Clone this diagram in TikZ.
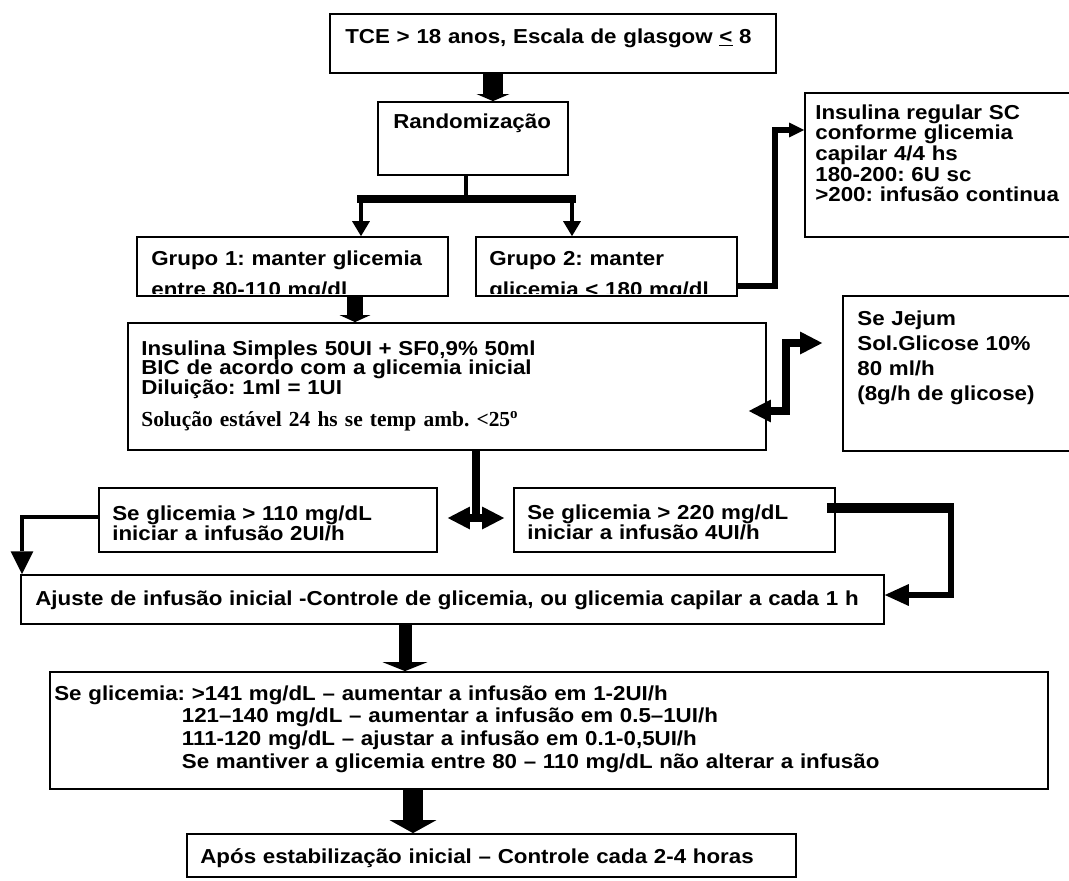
\documentclass[tikz,border=0pt]{standalone}
\usepackage{fontspec}
\setmainfont{Liberation Sans}[FakeStretch=1.105]
\newfontfamily\timesbold{Liberation Serif}
\usetikzlibrary{arrows.meta, calc, fit}
\frenchspacing
\tikzset{
	box/.style={draw=black, line width=1pt, inner sep=0pt},
	txt/.style={anchor=base west, inner sep=0pt, align=left, text width=18cm,
		font=\fontsize{11.5}{#1}\selectfont\bfseries},
	fatarrow/.style n args={3}{line width=#1, -{Triangle[width=#2,length=#3,line width=0pt]}},
	elbow/.style n args={3}{line width=#1, -{Triangle[width=#2,length=#3,line width=0pt]}},
	twoway/.style={line width=4pt,
		{Triangle[width=13pt,length=12.5pt,line width=0pt]}-{Triangle[width=13pt,length=12.5pt,line width=0pt]}},
	stem/.style={line width=2.8pt},
	bar/.style={line width=4.5pt, line cap=rect}
}
\begin{document}
\frenchspacing
\begin{tikzpicture}[x=0.02cm, y=-0.02cm]
	\fill[white] (0,0) rectangle (1069,880);
	\useasboundingbox (0,0) rectangle (1069,880);
	% caixas
	\node[box, fit={(330,14) (776,73)}]    (tce)    {};
	\node[box, fit={(378,102) (568,175)}]  (rand)   {};
	\node[box, fit={(137,237) (448,296)}]  (grp1)   {};
	\node[box, fit={(476,237) (737,296)}]  (grp2)   {};
	\node[box, fit={(805,93) (1080,237)}]  (sc)     {};
	\node[box, fit={(128,323) (766,450)}]  (bic)    {};
	\node[box, fit={(843,296) (1080,451)}] (jejum)  {};
	\node[box, fit={(99,488) (437,552)}]   (ini2)   {};
	\node[box, fit={(514,488) (835,552)}]  (ini4)   {};
	\node[box, fit={(21,575) (884,624)}]   (ajuste) {};
	\node[box, fit={(50,672) (1048,789)}]  (regras) {};
	\node[box, fit={(187,834) (796,877)}]  (apos)   {};
	% textos
	\node[txt=11.8pt] (tce-t) at (345,43) {TCE > 18 anos, Escala de glasgow \underline{<} 8};
	\node[txt=11.8pt] (rand-t) at (393,128) {Randomização};
	\begin{scope}
		\clip (137,237) rectangle (737,293);
		\node[txt=18.1pt] (grp1-t) at (151,265) {Grupo 1: manter glicemia\\entre 80-110 mg/dl};
		\node[txt=18.1pt] (grp2-t) at (489,265) {Grupo 2: manter\\glicemia < 180 mg/dl};
	\end{scope}
	\node[txt=11.8pt] (sc-t) at (815,119) {Insulina regular SC\\conforme glicemia\\capilar 4/4 hs\\180-200: 6U sc\\>200: infusão continua};
	\node[txt=11.2pt] (bic-t) at (141,355) {Insulina Simples 50UI + SF0,9\% 50ml\\BIC de acordo com a glicemia inicial\\Diluição: 1ml = 1UI};
	\node[txt=11.2pt, font=\timesbold\fontsize{12.2}{14}\selectfont\bfseries] (bic-t2) at (141,426) {Solução estável 24 hs se temp amb. <25\textsuperscript{o}};
	\node[txt=14.3pt] (jejum-t) at (857,325) {Se Jejum\\Sol.Glicose 10\%\\80 ml/h\\(8g/h de glicose)};
	\node[txt=11.9pt] (ini2-t) at (112,520) {Se glicemia > 110 mg/dL\\iniciar a infusão 2UI/h};
	\node[txt=11.9pt] (ini4-t) at (527,519) {Se glicemia > 220 mg/dL\\iniciar a infusão 4UI/h};
	\node[txt=11.9pt] (ajuste-t) at (35,605) {Ajuste de infusão inicial -Controle de glicemia, ou glicemia capilar a cada 1 h};
	\node[txt=12.9pt] (regras-t) at (54,700) {Se glicemia: >141 mg/dL – aumentar a infusão em 1-2UI/h\\
		\hspace*{72.6pt}121–140 mg/dL – aumentar a infusão em 0.5–1UI/h\\
		\hspace*{72.6pt}111-120 mg/dL – ajustar a infusão em 0.1-0,5UI/h\\
		\hspace*{72.6pt}Se mantiver a glicemia entre 80 – 110 mg/dL não alterar a infusão};
	\node[txt=12pt] (apos-t) at (200,863) {Após estabilização inicial – Controle cada 2-4 horas};
	% setas
	\draw[fatarrow={11.3pt}{18.7pt}{4pt}] (tce.south -| 493,0) -- (rand.north -| 493,0);
	\coordinate (split) at (466,199);
	\coordinate (fork1) at (361,199);
	\coordinate (fork2) at (572,199);
	\draw[stem] (rand.south -| split) -- (split);
	\draw[bar] (fork1) -- (fork2);
	\draw[elbow={2.8pt}{10.2pt}{8.5pt}] (fork1) -- (fork1 |- grp1.north);
	\draw[elbow={2.8pt}{10.2pt}{8.5pt}] (fork2) -- (fork2 |- grp2.north);
	\draw[fatarrow={9.6pt}{17.6pt}{4pt}] (grp1.south -| 355,0) -- (bic.north -| 355,0);
	\draw[elbow={3.7pt}{8.5pt}{8.5pt}] (grp2.east |- 0,286) -| (775,130) -- (sc.west |- 0,130);
	\draw[twoway] ($(bic.east |- 0,411)+(-18,0)$) -| (786,343) -- ($(jejum.west |- 0,343)+(-20,0)$);
	\draw[line width=4pt] (bic.south -| 476,0) -- (476,522);
	\draw[twoway] ($(ini2.east |- 0,518)+(10,0)$) -- ($(ini4.west |- 0,518)+(-9,0)$);
	\draw[elbow={2.8pt}{13pt}{13pt}] (ini2.west |- 0,517) -| (ajuste.north -| 22,0);
	\coordinate (loop) at (951,508);
	\draw[line width=5.7pt] ($(ini4.east |- loop)+(-9,0)$) -- ($(loop)+(3,0)$);
	\draw[elbow={3.4pt}{12.5pt}{13.6pt}] (loop) |- (ajuste.east |- 0,595);
	\draw[fatarrow={7.4pt}{25.5pt}{5.1pt}] (ajuste.south -| 405,0) -- (regras.north -| 405,0);
	\draw[fatarrow={11.9pt}{26.6pt}{7.4pt}] (regras.south -| 413,0) -- (apos.north -| 413,0);
\end{tikzpicture}
\end{document}
